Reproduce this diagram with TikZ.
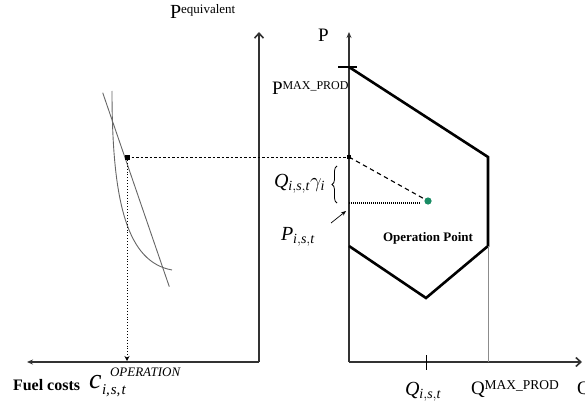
\documentclass[tikz,border=0pt]{standalone}
\usepackage{fontspec}
\setmainfont{Liberation Serif}
\usetikzlibrary{arrows.meta,decorations.pathreplacing}
\definecolor{opgreen}{RGB}{25,140,100}
\definecolor{axisgray}{RGB}{50,50,50}
\begin{document}
\begin{tikzpicture}[x=1pt,y=-1pt,
  axisline/.style={line width=1.6pt, draw=axisgray},
  regionline/.style={line width=2.6pt, draw=black, line join=miter},
  curveline/.style={line width=0.9pt, draw=black!60},
  projdash/.style={line width=0.9pt, draw=black, dash pattern=on 2.5pt off 2pt},
  lbl/.style={inner sep=0pt, outer sep=0pt}
]
\useasboundingbox (0,0) rectangle (585,409);

% coordinates
\coordinate (LO) at (259,362);
\coordinate (LT) at (259,32);
\coordinate (LL) at (27,362);
\coordinate (RO) at (349,362);
\coordinate (RT) at (349,32);
\coordinate (RR) at (582,362);
\coordinate (A) at (349,67);
\coordinate (B) at (488,157);
\coordinate (C) at (488,246);
\coordinate (D) at (426,298);
\coordinate (E) at (349,246);
\coordinate (Cq) at (488,362);
\coordinate (Qt1) at (426,355);
\coordinate (Qt2) at (426,370);
\coordinate (Pt1) at (338,67);
\coordinate (Pt2) at (357,67);
\coordinate (Sq) at (127,157);
\coordinate (Sb) at (127,361);
\coordinate (Ax) at (349,157);
\coordinate (Op) at (428,201);
\coordinate (Hd) at (349,203);
\coordinate (He) at (421,203);
\coordinate (Br1) at (337,203);
\coordinate (Br2) at (337,166);
\coordinate (Ar1) at (331,223);
\coordinate (Ar2) at (346,211);
\coordinate (L1) at (102.7,92.7);
\coordinate (L2) at (169.3,286.7);
\coordinate (K1) at (112,91);
\coordinate (K2) at (172,270);

% axes
\draw[axisline, -{Straight Barb[length=5pt,width=9pt]}] (LO) -- (LT);
\draw[axisline, -{Stealth[length=6pt,width=5pt]}] (LO) -- (LL);
\draw[axisline, -{Stealth[length=6pt,width=5pt]}] (RO) -- (RT);
\draw[axisline, -{Straight Barb[length=5pt,width=9pt]}] (RO) -- (RR);

% operating region
\draw[regionline] (A) -- (B) -- (C) -- (D) -- (E);
\draw[line width=2.6pt] (Pt1) -- (Pt2);
\draw[line width=0.6pt, draw=black!45] (C) -- (Cq);
\draw[line width=0.8pt] (Qt1) -- (Qt2);

% fuel cost curves
\draw[curveline] (L1) -- (L2);
\draw[curveline] (K1) .. controls (112,205) and (128,262) .. (K2);

% projections
\draw[projdash] (Sq) -- (Ax);
\fill (Sq) +(-2.5,-2.5) rectangle +(2.5,2.5);
\fill (Ax) +(-1.8,-1.8) rectangle +(1.8,1.8);
\draw[line width=0.9pt, dotted, -{Stealth[length=5pt,width=5pt]}] (Sq) -- (Sb);
\draw[line width=1.1pt, dash pattern=on 4.5pt off 3.5pt] (Ax) -- (Op);
\draw[line width=1.5pt, dash pattern=on 1pt off 1pt] (Hd) -- (He);
\fill[opgreen] (Op) circle (3.6pt);
\draw[line width=0.8pt, decorate, decoration={brace, amplitude=5pt}] (Br1) -- (Br2);
\draw[line width=0.7pt, -{Stealth[length=5pt,width=4pt]}] (Ar1) -- (Ar2);

% labels
\node[lbl, anchor=base west] (peq) at (170,19) {\fontsize{20}{20}\selectfont P\raisebox{5pt}{\fontsize{13}{13}\selectfont equivalent}};
\node[lbl, anchor=base west] (paxis) at (318,42) {\fontsize{19}{19}\selectfont P};
\node[lbl, anchor=base west] (pmax) at (272,95) {\fontsize{19}{19}\selectfont P\raisebox{5pt}{\fontsize{12}{12}\selectfont MAX\_PROD}};
\node[lbl, anchor=base west] (qgam) at (274,187) {\fontsize{20}{20}\selectfont $\mathit{Q}_{\mathit{i,s,t}}\gamma_{\mathit{i}}$};
\node[lbl, anchor=base west] (pist) at (281,240) {\fontsize{20}{20}\selectfont $\mathit{P}_{\mathit{i,s,t}}$};
\node[lbl] (oplabel) at (428,238) {\fontsize{13}{13}\selectfont\bfseries Operation Point};
\node[lbl, anchor=base] (qist) at (423,395) {\fontsize{20}{20}\selectfont $\mathit{Q}_{\mathit{i,s,t}}$};
\node[lbl, anchor=base west] (qmax) at (471,394) {\fontsize{19}{19}\selectfont Q\raisebox{5pt}{\fontsize{13.5}{13.5}\selectfont MAX\_PROD}};
\node[lbl, anchor=base west] (qaxis) at (577,394) {\fontsize{19}{19}\selectfont Q};
\node[lbl, anchor=base west] (fuel) at (13,390) {\fontsize{16}{16}\selectfont\bfseries Fuel costs};
\node[lbl, anchor=base west] (cop) at (89,388) {\fontsize{28}{28}\selectfont\itshape c};
\node[lbl, anchor=base west] (copsub) at (102,394) {\fontsize{15}{15}\selectfont\itshape i,\kern1pt s,\kern1pt t};
\node[lbl, anchor=base west] (copsup) at (110,376) {\fontsize{13}{13}\selectfont\itshape OPERATION};
\end{tikzpicture}
\end{document}
